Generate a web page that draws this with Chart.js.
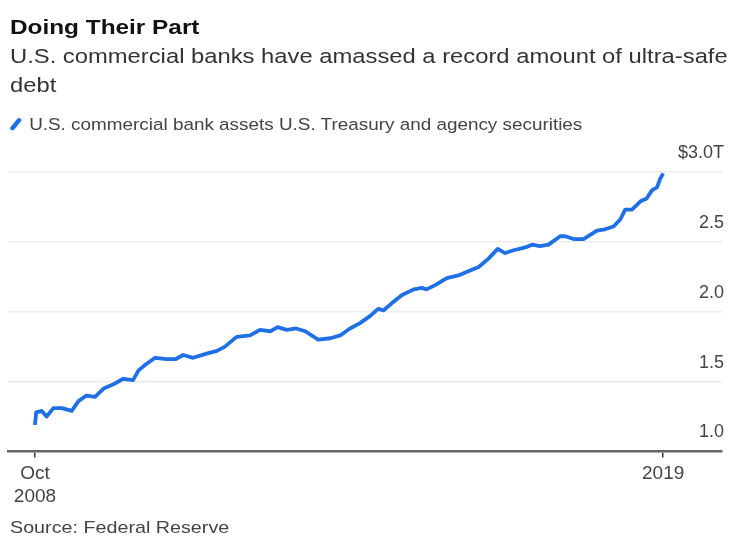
<!DOCTYPE html>
<html>
<head>
<meta charset="utf-8">
<script src="https://cdn.jsdelivr.net/npm/chart.js@4.4.1/dist/chart.umd.min.js"></script>
<style>
  html, body { margin: 0; padding: 0; background: #fff; }
  body { width: 750px; height: 552px; position: relative; overflow: hidden;
         font-family: "Liberation Sans", Arial, sans-serif; }
  #chart { position: absolute; left: 0; top: 0; }
  .txt { position: absolute; left: 10px; white-space: nowrap;
         transform: scaleX(1.16); transform-origin: 0 0; }
  #title { top: 15px; font-size: 21px; font-weight: bold; color: #111; }
  #sub { top: 41px; font-size: 20.5px; line-height: 29px; color: #333; white-space: normal; width: 640px; }
  #legend { top: 115px; font-size: 16.3px; color: #444; }
  #legend .mark { display: inline-block; width: 3.5px; height: 14px; background: #1f6fe5;
                  transform: rotate(35deg); margin: 0 10px 0 3px; vertical-align: -1px; border-radius: 2px; }
  #source { top: 518px; font-size: 17px; color: #444; }
</style>
</head>
<body>
<canvas id="chart" width="750" height="552"></canvas>
<div class="txt" id="title">Doing Their Part</div>
<div class="txt" id="sub">U.S. commercial banks have amassed a record amount of ultra-safe debt</div>
<div class="txt" id="legend"><span class="mark"></span>U.S. commercial bank assets U.S. Treasury and agency securities</div>
<div class="txt" id="source">Source: Federal Reserve</div>
<script>
// dates as decimal years, values in $ trillions
const years = [
  2008.75, 2008.77, 2008.86, 2008.94, 2009.05, 2009.19, 2009.35, 2009.46, 2009.59, 2009.73,
  2009.87, 2010.03, 2010.19, 2010.35, 2010.44, 2010.55, 2010.71, 2010.90, 2011.04, 2011.17,
  2011.33, 2011.55, 2011.72, 2011.85, 2012.04, 2012.26, 2012.42, 2012.59, 2012.71, 2012.86,
  2013.01, 2013.16, 2013.37, 2013.57, 2013.73, 2013.89, 2014.06, 2014.22, 2014.35, 2014.44,
  2014.57, 2014.74, 2014.93, 2015.06, 2015.14, 2015.28, 2015.47, 2015.66, 2015.82, 2015.99,
  2016.15, 2016.30, 2016.42, 2016.56, 2016.75, 2016.86, 2016.99, 2017.13, 2017.32, 2017.40,
  2017.54, 2017.70, 2017.81, 2017.92, 2018.05, 2018.19, 2018.30, 2018.38, 2018.49, 2018.63,
  2018.73, 2018.82, 2018.90, 2018.95, 2019.00
];
const values = [
  1.19, 1.28, 1.29, 1.25, 1.31, 1.31, 1.29, 1.36, 1.40, 1.39,
  1.45, 1.48, 1.52, 1.51, 1.58, 1.62, 1.67, 1.66, 1.66, 1.69,
  1.67, 1.70, 1.72, 1.75, 1.82, 1.83, 1.87, 1.86, 1.89, 1.87,
  1.88, 1.86, 1.80, 1.81, 1.83, 1.88, 1.92, 1.97, 2.02, 2.01,
  2.06, 2.12, 2.16, 2.17, 2.16, 2.19, 2.24, 2.26, 2.29, 2.32,
  2.38, 2.45, 2.42, 2.44, 2.46, 2.48, 2.47, 2.48, 2.54, 2.54,
  2.52, 2.52, 2.55, 2.58, 2.59, 2.61, 2.66, 2.73, 2.73, 2.79,
  2.81, 2.87, 2.89, 2.95, 2.99
];
const xTicks = [2008.75, 2019.0];
const xTickLabels = [["Oct", "2008"], "2019"];
const yTicks = [1.0, 1.5, 2.0, 2.5, 3.0];

const points = years.map((y, i) => ({ x: y, y: values[i] }));

new Chart(document.getElementById("chart"), {
  type: "line",
  data: {
    datasets: [{
      label: "U.S. commercial bank assets U.S. Treasury and agency securities",
      data: points,
      borderColor: "#1f6fe5",
      borderWidth: 3.8,
      pointRadius: 0,
      tension: 0,
      borderJoinStyle: "round",
    }],
  },
  options: {
    responsive: false,
    animation: false,
    devicePixelRatio: 1,
    layout: { padding: { top: 172, left: 8, right: 24, bottom: 39 } },
    plugins: { legend: { display: false }, tooltip: { enabled: false } },
    scales: {
      x: {
        type: "linear",
        min: 2008.31,
        max: 2019.96,
        afterBuildTicks: (axis) => { axis.ticks = xTicks.map((v) => ({ value: v })); },
        ticks: {
          autoSkip: false,
          maxRotation: 0,
          color: "#444",
          font: { family: "Liberation Sans", size: 19 },
          padding: 5,
          callback: (v) => xTickLabels[xTicks.indexOf(v)],
        },
        grid: { drawOnChartArea: false, drawTicks: true, tickLength: 6, color: "#333", lineWidth: 1.5 },
        border: { display: true, color: "#666", width: 2.5 },
      },
      y: {
        position: "right",
        min: 1.0,
        max: 3.0,
        afterBuildTicks: (axis) => { axis.ticks = yTicks.map((v) => ({ value: v })); },
        ticks: {
          mirror: true,
          labelOffset: -19,
          padding: 2,
          color: "#444",
          font: { family: "Liberation Sans", size: 18 },
          callback: (v) => (v === 3 ? "$3.0T" : v.toFixed(1)),
        },
        grid: { color: "#ececec", lineWidth: 1.5, drawTicks: false },
        border: { display: false },
      },
    },
  },
});
</script>
</body>
</html>
